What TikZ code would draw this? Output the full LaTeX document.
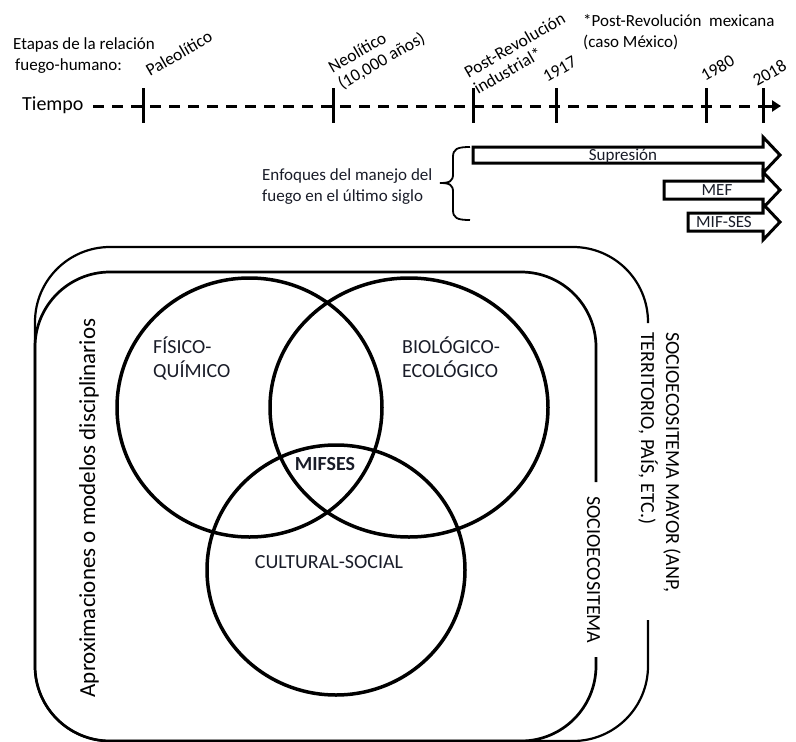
\documentclass[tikz,border=0pt]{standalone}
\usepackage{fontspec}
\setmainfont{Carlito}
\usetikzlibrary{arrows.meta}
\definecolor{txt}{RGB}{25,28,40}
\begin{document}
\begin{tikzpicture}[x=1pt,y=-1pt,
  lbl/.style={inner sep=0pt, text=txt, font=\fontsize{17}{20.5}\selectfont},
  big/.style={inner sep=0pt, text=txt, font=\fontsize{20}{24}\selectfont},
  vtxt/.style={inner sep=0pt, text=black, font=\fontsize{20}{25}\selectfont},
  tickline/.style={line width=3pt},
  tline/.style={line width=3pt, dash pattern=on 11pt off 8pt},
  barrow/.style={line width=3pt, fill=white, line join=miter},
  venn/.style={line width=3.5pt},
  outerframe/.style={line width=2.2pt, rounded corners=75pt},
  innerframe/.style={line width=2.7pt, rounded corners=75pt},
  tlab/.style={inner sep=0pt, text=black, font=\fontsize{17.5}{19}\selectfont, rotate=30, anchor=base west, align=left},
]
\useasboundingbox (0,0) rectangle (796,742);

% ---- timeline ----
\node[lbl, text=black, anchor=base west, align=left] (etapas) at (13,70) {Etapas de la relación\\\hspace{2pt}fuego-humano:};
\node[inner sep=0pt, font=\fontsize{20}{24}\selectfont, anchor=base west] (tiempo) at (22,110) {Tiempo};
\coordinate (t0) at (93,106);
\coordinate (tk1) at (143,106);
\coordinate (tk2) at (333,106);
\coordinate (tk3) at (473,106);
\coordinate (tk4) at (556,106);
\coordinate (tk5) at (706,106);
\coordinate (tk6) at (763,106);
\coordinate (tend) at (781,106);
\draw[tline] (t0) -- (tk6);
\draw[line width=3pt, -{Triangle[length=9pt,width=11pt]}] (tk6) -- (tend);
\foreach \t in {tk1,tk2,tk3,tk4,tk5,tk6}
  \draw[tickline] ([yshift=18pt]\t) -- ([yshift=-17pt]\t);

\node[tlab] (paleo) at (150,77) {Paleolítico};
\node[tlab] (neo) at (342,90) {Neolítico\\(10,000 años)};
\node[tlab] (postrev) at (478,95) {Post-Revolución\\industrial*};
\node[tlab] (y1917) at (547,83) {1917};
\node[tlab] (y1980) at (705,82) {1980};
\node[tlab] (y2018) at (757,87) {2018};

\node[lbl, text=black, anchor=base west, align=left] (note) at (583,47) {*Post-Revolución\ \ mexicana\\(caso México)};

% ---- approaches ----
\node[lbl, anchor=base west, align=left] (enf) at (262,201) {Enfoques del manejo del\\fuego en el último siglo};
\draw[line width=1.8pt] (470,147) .. controls (457,147) and (453,149) .. (453,157) -- (453,174)
  .. controls (453,181) and (450,183) .. (440,183)
  .. controls (450,183) and (453,185) .. (453,192) -- (453,210)
  .. controls (453,218) and (457,220) .. (470,220);

\draw[barrow] (473,147) -- (763,147) -- (763,137) -- (780,155) -- (763,173) -- (763,163) -- (473,163) -- cycle;
\draw[barrow] (664,181) -- (763,181) -- (763,172) -- (780,190) -- (763,208) -- (763,199) -- (664,199) -- cycle;
\draw[barrow] (688,213) -- (763,213) -- (763,204) -- (780,222) -- (763,240) -- (763,231) -- (688,231) -- cycle;
\node[lbl, anchor=base] (supr) at (623,160) {Supresión};
\node[lbl, anchor=base] (mef) at (717,195) {MEF};
\node[lbl, anchor=base] (mifses2) at (724,227) {MIF-SES};

% ---- frames ----
\draw[outerframe] (648,323) -- (648,247) -- (35,247) -- (35,741) -- (648,741) -- (648,620);
\draw[innerframe] (596,482) -- (596,272) -- (35,272) -- (35,741) -- (596,741) -- (596,657);

% ---- venn ----
\draw[venn] (249.5,407.5) ellipse [x radius=132.5, y radius=129.5];
\draw[venn] (409,407.5) ellipse [x radius=139, y radius=129.5];
\draw[venn] (336,570) ellipse [x radius=129, y radius=125];

\node[big, anchor=base west, align=left] (fq) at (153,377) {FÍSICO-\\QUÍMICO};
\node[big, anchor=base west, align=left] (be) at (402,377) {BIOLÓGICO-\\ECOLÓGICO};
\node[big, font=\fontsize{20}{24}\selectfont\bfseries, anchor=base] (mifses) at (325,470) {MIFSES};
\node[big, anchor=base] (cs) at (329,568) {CULTURAL-SOCIAL};

\node[inner sep=0pt, font=\fontsize{23}{27}\selectfont, rotate=90, anchor=base] (aprox) at (95,508) {Aproximaciones o modelos disciplinarios};
\node[vtxt, rotate=-90, anchor=base] (socio) at (587,570) {SOCIOECOSITEMA};
\node[vtxt, rotate=-90, anchor=base west, align=left] (mayor) at (641,332) {SOCIOECOSITEMA MAYOR (ANP,\\TERRITORIO, PAÍS, ETC.)};
\end{tikzpicture}
\end{document}
